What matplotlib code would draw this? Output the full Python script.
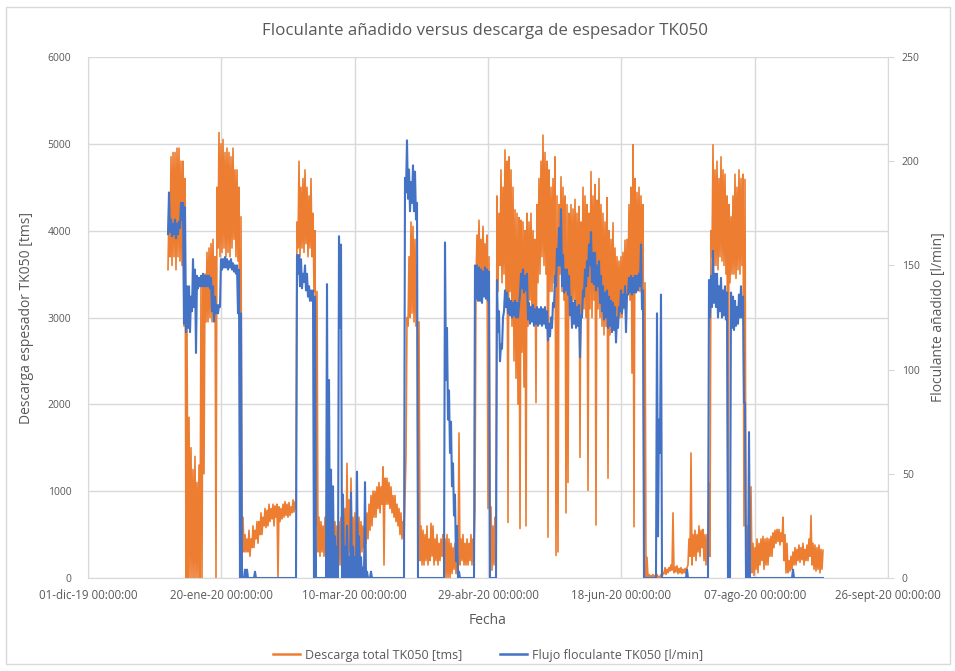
import numpy as np
import pandas as pd
import matplotlib
matplotlib.use("Agg")
import matplotlib.pyplot as plt
from matplotlib.patches import Rectangle

# ---------------- data ----------------
# Dense time series, given as min / max of each 18 h bin (starting 31-dic-19)
start_time = "2019-12-31 00:00"
half_step = "9h"

descarga_max = [
    4300, 4850, 4900, 4900, 4950, 4950, 4800, 4800, 4600, 2900,
    1850, 1500, 1250, 1400, 1100, 1300, 3350, 3400, 3500, 3750,
    3800, 3850, 3900, 3700, 4500, 5130, 5000, 5050, 4900, 4950,
    4900, 4850, 4950, 4700, 4700, 4500, 4160, 700, 500, 450,
    550, 450, 600, 550, 650, 650, 750, 700, 800, 780,
    850, 800, 850, 830, 850, 820, 800, 850, 880, 850,
    870, 820, 900, 880, 4100, 4800, 4500, 4600, 4700, 4500,
    4400, 4600, 4200, 4000, 3300, 700, 650, 600, 700, 600,
    600, 700, 550, 650, 600, 650, 700, 750, 800, 1320,
    900, 1150, 700, 750, 600, 700, 650, 600, 650, 750,
    850, 950, 1000, 1000, 1050, 1100, 1050, 1280, 1150, 1150,
    1100, 1050, 950, 950, 850, 800, 750, 650, 900, 3000,
    3700, 4100, 4050, 3900, 3600, 2950, 600, 550, 500, 600,
    450, 630, 600, 450, 500, 400, 450, 500, 450, 500,
    450, 400, 350, 400, 300, 1670, 450, 500, 400, 450,
    400, 500, 450, 800, 3950, 4120, 3900, 4050, 3850, 3950,
    3700, 820, 600, 700, 4400, 4200, 4700, 4500, 4930, 4800,
    4850, 4700, 4500, 4240, 4200, 4150, 4120, 4100, 4000, 4200,
    4100, 4200, 4000, 3900, 4300, 4600, 4800, 5100, 4900, 4800,
    4700, 4500, 4600, 4850, 4400, 4300, 4620, 4500, 4400, 4300,
    4200, 4300, 4250, 4360, 4200, 4280, 4100, 4500, 4400, 4300,
    4200, 4680, 4400, 4530, 4350, 4600, 4300, 4200, 4100, 4380,
    4000, 3900, 4090, 3800, 3700, 3650, 3700, 3750, 3890, 3900,
    4300, 4500, 4990, 4600, 4440, 4500, 4400, 4300, 3400, 240,
    40, 30, 40, 30, 40, 20, 40, 60, 120, 100,
    120, 150, 750, 130, 140, 110, 120, 100, 110, 120,
    450, 1440, 500, 550, 500, 600, 550, 560, 500, 500,
    1090, 4000, 4990, 4700, 4800, 4600, 4850, 4700, 4650, 4400,
    4300, 4160, 4400, 4650, 4500, 4700, 4600, 4650, 4590, 600,
    500, 1050, 400, 350, 450, 400, 450, 480, 450, 460,
    450, 480, 520, 550, 560, 560, 520, 700, 500, 400,
    200, 250, 300, 350, 330, 380, 350, 400, 330, 380,
    450, 720, 400, 380, 350, 380, 330, 320,
]

descarga_min = [
    3550, 3700, 3600, 3700, 3550, 3700, 3650, 3600, 2900, 0,
    0, 0, 0, 0, 0, 0, 0, 0, 1200, 2950,
    2950, 3000, 2950, 3000, 0, 3800, 3700, 3750, 3800, 3700,
    3750, 3700, 3800, 3900, 3700, 3650, 650, 300, 300, 300,
    300, 250, 350, 350, 450, 400, 500, 500, 600, 580,
    600, 650, 680, 600, 700, 0, 650, 680, 700, 720,
    700, 720, 750, 760, 800, 3800, 3700, 3800, 3750, 3850,
    3700, 3800, 3700, 3300, 600, 300, 250, 300, 250, 200,
    200, 250, 150, 200, 100, 200, 150, 250, 200, 300,
    250, 300, 200, 250, 150, 200, 250, 300, 350, 400,
    450, 550, 600, 700, 700, 800, 750, 850, 150, 850,
    850, 800, 750, 700, 650, 600, 500, 450, 450, 1400,
    2900, 3000, 3050, 2950, 2900, 300, 200, 150, 150, 200,
    150, 200, 250, 150, 200, 150, 200, 250, 100, 0,
    0, 0, 50, 100, 50, 100, 150, 200, 150, 150,
    150, 200, 150, 300, 3400, 3550, 3500, 3450, 3500, 3450,
    800, 100, 90, 150, 600, 3300, 3600, 3400, 3500, 3300,
    640, 3300, 2900, 2500, 2300, 2000, 570, 2600, 2200, 600,
    2900, 3200, 3000, 3100, 2020, 3400, 3500, 3700, 3600, 3500,
    470, 3300, 3300, 3400, 260, 300, 3500, 3300, 3200, 750,
    1100, 3200, 3000, 3200, 3100, 2900, 1390, 3000, 3100, 3000,
    1010, 3100, 3000, 3200, 610, 3100, 3000, 2900, 2800, 2900,
    1150, 2800, 3000, 2900, 3000, 2950, 3000, 3000, 3100, 3050,
    3300, 3200, 2360, 590, 3300, 3350, 3300, 3400, 240, 0,
    0, 0, 0, 0, 0, 0, 0, 10, 50, 40,
    60, 80, 90, 60, 70, 50, 60, 50, 60, 50,
    150, 250, 150, 250, 200, 300, 250, 350, 200, 150,
    200, 250, 3700, 3600, 3600, 3550, 3700, 3650, 3600, 3500,
    300, 3400, 3500, 3500, 3450, 3550, 3500, 3600, 600, 0,
    100, 200, 60, 30, 100, 60, 150, 200, 100, 150,
    150, 250, 250, 350, 400, 420, 380, 420, 200, 60,
    60, 80, 100, 150, 150, 200, 180, 210, 150, 200,
    200, 250, 150, 100, 80, 100, 60, 100,
]

flujo_max = [
    185, 172, 170, 172, 170, 171, 180, 180, 178, 140,
    140, 135, 153, 148, 145, 144, 145, 146, 145, 145,
    145, 144, 140, 135, 131, 131, 153, 153, 154, 153,
    152, 153, 151, 150, 150, 148, 127, 0, 4, 4,
    0, 0, 0, 3, 0, 0, 0, 0, 0, 0,
    0, 0, 0, 0, 0, 0, 0, 0, 0, 0,
    0, 0, 0, 0, 155, 155, 153, 146, 150, 146,
    140, 138, 138, 135, 0, 0, 0, 0, 0, 141,
    95, 52, 44, 20, 15, 164, 160, 40, 15, 25,
    10, 41, 15, 10, 51, 20, 10, 5, 46, 3,
    0, 3, 0, 0, 0, 0, 0, 0, 0, 0,
    0, 0, 0, 0, 0, 0, 0, 0, 192, 210,
    196, 190, 198, 195, 180, 0, 0, 0, 0, 0,
    0, 0, 0, 0, 0, 0, 0, 0, 161, 120,
    90, 75, 55, 40, 25, 3, 0, 0, 0, 0,
    0, 0, 0, 150, 150, 149, 148, 147, 149, 148,
    147, 0, 0, 0, 143, 128, 112, 125, 138, 137,
    134, 133, 132, 133, 132, 131, 146, 148, 145, 146,
    132, 130, 131, 129, 130, 129, 130, 129, 130, 128,
    122, 125, 132, 145, 158, 168, 177, 155, 148, 148,
    145, 135, 132, 133, 130, 131, 126, 138, 148, 152,
    160, 166, 156, 156, 150, 152, 145, 140, 137, 138,
    135, 133, 132, 130, 125, 130, 138, 136, 140, 136,
    144, 145, 144, 145, 145, 146, 160, 138, 0, 0,
    0, 0, 0, 0, 127, 76, 136, 0, 0, 0,
    0, 0, 0, 0, 0, 0, 0, 0, 0, 4,
    0, 0, 0, 0, 0, 0, 0, 0, 0, 0,
    143, 145, 157, 146, 146, 140, 144, 138, 140, 137,
    0, 137, 135, 133, 130, 136, 140, 135, 84, 0,
    70, 0, 0, 0, 0, 0, 0, 0, 0, 0,
    0, 0, 0, 0, 0, 0, 0, 0, 0, 0,
    0, 0, 4, 0, 0, 0, 0, 0, 0, 0,
    0, 0, 0, 0, 0, 0, 0, 0,
]

flujo_min = [
    165, 166, 164, 165, 163, 165, 168, 172, 122, 118,
    120, 118, 128, 130, 108, 139, 140, 140, 140, 140,
    140, 139, 128, 123, 127, 127, 130, 148, 149, 149,
    148, 149, 148, 147, 146, 127, 0, 0, 0, 0,
    0, 0, 0, 0, 0, 0, 0, 0, 0, 0,
    0, 0, 0, 0, 0, 0, 0, 0, 0, 0,
    0, 0, 0, 0, 0, 146, 140, 139, 142, 138,
    135, 133, 133, 0, 0, 0, 0, 0, 0, 0,
    0, 0, 0, 0, 0, 0, 120, 0, 0, 0,
    0, 0, 0, 0, 0, 0, 0, 0, 0, 0,
    0, 0, 0, 0, 0, 0, 0, 0, 0, 0,
    0, 0, 0, 0, 0, 0, 0, 0, 0, 185,
    182, 176, 180, 176, 172, 0, 0, 0, 0, 0,
    0, 0, 0, 0, 0, 0, 0, 0, 0, 95,
    76, 60, 44, 30, 8, 0, 0, 0, 0, 0,
    0, 0, 0, 0, 134, 133, 133, 132, 135, 134,
    133, 0, 0, 0, 0, 118, 104, 110, 128, 130,
    127, 126, 125, 126, 125, 125, 136, 139, 137, 138,
    124, 122, 123, 121, 122, 121, 122, 121, 122, 120,
    114, 116, 120, 130, 140, 150, 150, 140, 137, 138,
    136, 126, 120, 122, 120, 121, 106, 125, 135, 140,
    145, 150, 142, 141, 138, 140, 132, 128, 124, 125,
    120, 121, 118, 119, 113, 120, 128, 127, 130, 118,
    136, 137, 136, 137, 137, 138, 140, 129, 0, 0,
    0, 0, 0, 0, 0, 20, 60, 0, 0, 0,
    0, 0, 0, 0, 0, 0, 0, 0, 0, 0,
    0, 0, 0, 0, 0, 0, 0, 0, 0, 0,
    0, 125, 130, 132, 130, 125, 128, 125, 126, 124,
    0, 0, 120, 119, 121, 122, 125, 125, 84, 0,
    0, 0, 0, 0, 0, 0, 0, 0, 0, 0,
    0, 0, 0, 0, 0, 0, 0, 0, 0, 0,
    0, 0, 0, 0, 0, 0, 0, 0, 0, 0,
    0, 0, 0, 0, 0, 0, 0, 0,
]

tick_dates = ["2019-12-01", "2020-01-20", "2020-03-10", "2020-04-29",
              "2020-06-18", "2020-08-07", "2020-09-26"]
tick_labels = ["01-dic-19 00:00:00", "20-ene-20 00:00:00", "10-mar-20 00:00:00",
               "29-abr-20 00:00:00", "18-jun-20 00:00:00", "07-ago-20 00:00:00",
               "26-sept-20 00:00:00"]
left_ticks = [0, 1000, 2000, 3000, 4000, 5000, 6000]
right_ticks = [0, 50, 100, 150, 200, 250]

title = "Floculante añadido versus descarga de espesador TK050"
ylabel_left = "Descarga espesador TK050 [tms]"
ylabel_right = "Floculante añadido [l/min]"
xlabel = "Fecha"
label_desc = "Descarga total TK050 [tms]"
label_flujo = "Flujo floculante TK050 [l/min]"

# ---------------- plot ----------------
plt.rcParams['font.family'] = ['Open Sans', 'DejaVu Sans']
TXT = "#595959"
GRID = "#D9D9D9"
ORANGE = "#ED7D31"
BLUE = "#4472C4"

W, H = 955, 671
fig = plt.figure(figsize=(W / 100, H / 100), dpi=100)
fig.patches.append(Rectangle((6 / W, 7 / H), 944 / W, 657 / H, transform=fig.transFigure,
                             fill=False, edgecolor="#D9D9D9", linewidth=1.0))

ax = fig.add_axes([88 / W, (H - 578) / H, 800 / W, 521 / H])
ax2 = ax.twinx()

# interleave bin minima and maxima into one time series
desc_vals = np.column_stack([descarga_min, descarga_max]).ravel()
flujo_vals = np.column_stack([flujo_min, flujo_max]).ravel()
times_d = pd.date_range(start=start_time, periods=len(desc_vals), freq=half_step)
times_f = pd.date_range(start=start_time, periods=len(flujo_vals), freq=half_step)

ax.plot(times_d, desc_vals, color=ORANGE, lw=1.2)
ax2.plot(times_f, flujo_vals, color=BLUE, lw=1.5)

tdates = pd.to_datetime(tick_dates)
ax.set_xlim(tdates[0], tdates[-1])
ax.set_xticks(tdates)
ax.set_xticklabels(tick_labels)
ax.set_ylim(0, 6000)
ax.set_yticks(left_ticks)
ax2.set_ylim(0, 250)
ax2.set_yticks(right_ticks)

ax.grid(True, color=GRID, lw=1.0)
ax.set_axisbelow(True)
for a in (ax, ax2):
    for s in a.spines.values():
        s.set_visible(False)
ax.spines['bottom'].set_visible(True)
ax.spines['bottom'].set_color(GRID)
ax.spines['left'].set_visible(True)
ax.spines['left'].set_color(GRID)
ax2.spines['right'].set_visible(True)
ax2.spines['right'].set_color(GRID)

ax.tick_params(axis='x', length=0, pad=8, labelsize=8.3, labelcolor=TXT)
ax.tick_params(axis='y', length=0, pad=12, labelsize=7.5, labelcolor=TXT)
ax2.tick_params(axis='y', length=4, color=GRID, pad=6, labelsize=7.5, labelcolor=TXT)

ax.set_xlabel(xlabel, color=TXT, fontsize=10, labelpad=8)
ax.set_ylabel(ylabel_left, color=TXT, fontsize=10, labelpad=10)
ax2.set_ylabel(ylabel_right, color=TXT, fontsize=10, labelpad=8)

fig.text(485 / W, 1 - 31 / H, title, ha="center", va="center", color=TXT, fontsize=12.2)

h1, = ax.plot([], [], color=ORANGE, lw=1.8)
h2, = ax.plot([], [], color=BLUE, lw=1.8)
fig.legend([h1, h2], [label_desc, label_flujo], loc="center", ncol=2,
           bbox_to_anchor=(488 / W, 1 - 655 / H), frameon=False, fontsize=9,
           labelcolor=TXT, handlelength=2.2, columnspacing=3.0, handletextpad=0.4)

fig.savefig("out.png", dpi=100)
